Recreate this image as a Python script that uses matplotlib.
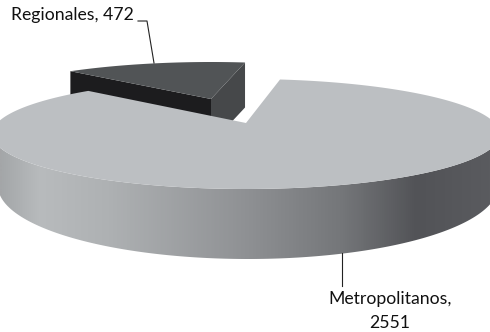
import numpy as np
import matplotlib
matplotlib.use('Agg')
import matplotlib.pyplot as plt
from matplotlib.colors import LinearSegmentedColormap
from matplotlib.patches import Polygon

# Values of the pie
categories = ['Regionales', 'Metropolitanos']
values = [472, 2551]

# Pie geometry in pixels
cx, cy = 246, 134
rx, ry = 254, 55
apex_y = 123
bottom_cx, bottom_cy = 248, 186
bottom_rx, bottom_ry = 250, 73
start_angle = 82.3
# the tilt makes the back of the pie look narrower than its true angle
big_squeeze = 0.82
small_squeeze = 0.735

def rim(a1, a2, x0=cx, y0=cy, a=rx, b=ry, n=300):
    t = np.radians(np.linspace(a1, a2, n))
    return x0 + a * np.cos(t), y0 - b * np.sin(t)

span = values[0] / sum(values) * 360

fig = plt.figure(figsize=(4.9, 3.32), dpi=100)
ax = fig.add_axes([0, 0, 1, 1])
ax.set_xlim(0, 490)
ax.set_ylim(332, 0)
ax.axis('off')

# Regionales slice, pulled out of the pie
small_x, small_y = cx - 35, apex_y - 24
small_depth = 45
x, y = rim(start_angle, start_angle + span * small_squeeze, x0=cx - 35, y0=cy - 17, n=80)
ax.add_patch(Polygon([(x[-1], y[-1]), (small_x, small_y), (small_x, small_y + small_depth), (x[-1], y[-1] + small_depth)], color='#1c1c1e', lw=0))
ax.add_patch(Polygon([(x[0], y[0]), (small_x, small_y), (small_x, small_y + small_depth), (x[0], y[0] + small_depth)], color='#46484a', lw=0))
ax.add_patch(Polygon(np.vstack([np.column_stack([x, y]), [(small_x, small_y)]]), color='#515456', lw=0))

# Metropolitanos side wall with the horizontal gradient
x, y = rim(180, 360)
bx, by = rim(360, 180, x0=bottom_cx, y0=bottom_cy, a=bottom_rx, b=bottom_ry)
wall = Polygon(np.vstack([np.column_stack([x, y]), np.column_stack([bx, by])]), transform=ax.transData, fc='none', lw=0)
ax.add_patch(wall)
side = LinearSegmentedColormap.from_list('side', [(0, '#a4a6a8'), (0.08, '#b8bbbd'), (0.22, '#aeb1b3'), (0.5, '#8f9194'), (0.7, '#747679'), (0.85, '#525357'), (1, '#5a5b5f')])
img = ax.imshow(np.linspace(0, 1, 490)[None, :], cmap=side, extent=(0, 490, 332, 0), aspect='auto')
img.set_clip_path(wall)

# Metropolitanos top face
x, y = rim(start_angle + span * big_squeeze, start_angle + 360)
ax.add_patch(Polygon(np.vstack([[(cx, apex_y)], np.column_stack([x, y])]), color='#bcbfc2', lw=0))

# Leader lines
ax.plot([138, 147, 154], [21, 21, 63], color='#222222', lw=0.8)
ax.plot([342, 342], [253, 286], color='#222222', lw=0.8)

# Labels
ax.text(72, 15, f'{categories[0]}, {values[0]}', ha='center', va='center', fontsize=12.7, family='Lato', color='#111111')
ax.text(390, 299, f'{categories[1]},', ha='center', va='center', fontsize=12.7, family='Lato', color='#111111')
ax.text(390, 323, f'{values[1]}', ha='center', va='center', fontsize=12.7, family='Lato', color='#111111')

fig.savefig('out.png', dpi=100)
